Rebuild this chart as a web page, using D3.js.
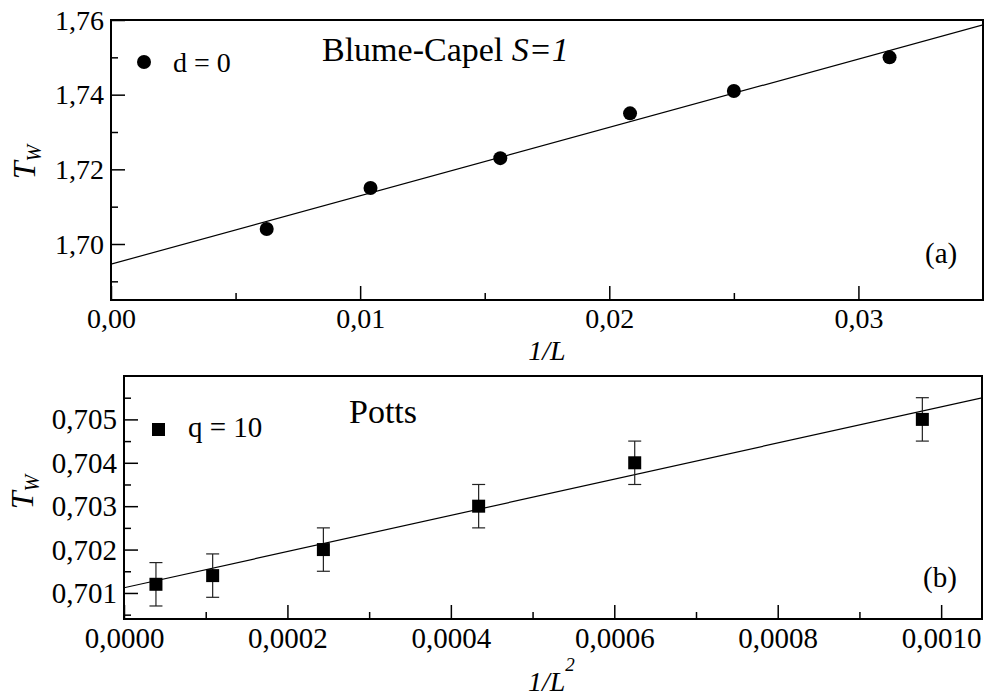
<!DOCTYPE html>
<html><head><meta charset="utf-8">
<script src="https://cdn.jsdelivr.net/npm/d3@7"></script>
</head><body style="margin:0">
<svg id="c" width="986" height="697"></svg>
<script>
// ---- data: panel (a) Blume-Capel S=1, d = 0 ----
const invL   = [0.00625, 0.0104167, 0.015625, 0.0208333, 0.025, 0.03125];
const twBC   = [1.704, 1.715, 1.723, 1.735, 1.741, 1.750];
const fitBC  = [1.6946, 1.831];           // intercept, slope
const xTicksA = [0, 0.01, 0.02, 0.03];
const xMinorA = [0.005, 0.015, 0.025];
const yTicksA = [1.70, 1.72, 1.74, 1.76];
const yMinorA = [1.69, 1.71, 1.73, 1.75];

// ---- data: panel (b) Potts q = 10 ----
const invL2    = [0.0000391, 0.0001085, 0.000244, 0.000434, 0.000625, 0.000977];
const twPotts  = [0.7012, 0.7014, 0.7020, 0.7030, 0.7040, 0.7050];
const errPotts = [0.0005, 0.0005, 0.0005, 0.0005, 0.0005, 0.0005];
const fitPotts = [0.70112, 4.17];
const xTicksB = [0, 0.0002, 0.0004, 0.0006, 0.0008, 0.0010];
const xMinorB = [0.0001, 0.0003, 0.0005, 0.0007, 0.0009];
const yTicksB = [0.701, 0.702, 0.703, 0.704, 0.705];
const yMinorB = [0.7005, 0.7015, 0.7025, 0.7035, 0.7045, 0.7055];

const FF = '"Liberation Serif"';
const svg = d3.select("#c");
const comma = f => v => d3.format(f)(v).replace(".", ",");
function txt(x, y, size){
  return svg.append("text").attr("x",x).attr("y",y).attr("font-size",size)
    .style("font-family",FF).attr("fill","#000");
}

function panel(o){
  const g = svg.append("g");
  const x = d3.scaleLinear().domain(o.xd).range([o.l, o.r]);
  const y = d3.scaleLinear().domain(o.yd).range([o.b, o.t]);
  const fs = o.fs;
  g.append("g").attr("transform",`translate(0,${o.b})`)
    .call(d3.axisBottom(x).tickValues(o.xMinor).tickSize(-7).tickFormat(""));
  g.append("g").attr("transform",`translate(${o.l},0)`)
    .call(d3.axisLeft(y).tickValues(o.yMinor).tickSize(-7).tickFormat(""));
  const xa = g.append("g").attr("transform",`translate(0,${o.b})`)
    .call(d3.axisBottom(x).tickValues(o.xTicks).tickSize(-14).tickPadding(0).tickFormat(comma(o.xf)));
  const ya = g.append("g").attr("transform",`translate(${o.l},0)`)
    .call(d3.axisLeft(y).tickValues(o.yTicks).tickSize(-14).tickPadding(7).tickFormat(comma(o.yf)));
  g.selectAll(".domain").remove();
  g.selectAll("g").attr("font-family",null).attr("font-size",null);
  g.selectAll(".tick line").attr("stroke","#000").attr("stroke-width",1.5);
  xa.selectAll("text").style("font-family",FF).attr("font-size",fs)
    .attr("y",null).attr("dy",null).attr("transform",`translate(0,${o.xlab})`);
  ya.selectAll("text").style("font-family",FF).attr("font-size",fs)
    .attr("dy","0.33em").attr("x",-7);
  g.append("rect").attr("x",o.l).attr("y",o.t).attr("width",o.r-o.l).attr("height",o.b-o.t)
    .attr("fill","none").attr("stroke","#000").attr("stroke-width",2);
  const cid = "clip"+o.id;
  svg.append("clipPath").attr("id",cid).append("rect")
    .attr("x",o.l).attr("y",o.t).attr("width",o.r-o.l).attr("height",o.b-o.t);
  const fx = o.xd;
  g.append("line").attr("clip-path",`url(#${cid})`)
    .attr("x1",x(fx[0])).attr("y1",y(o.fit[0]+o.fit[1]*fx[0]))
    .attr("x2",x(fx[1])).attr("y2",y(o.fit[0]+o.fit[1]*fx[1]))
    .attr("stroke","#000").attr("stroke-width",1.2);
  return {g,x,y};
}

// ---------- panel (a) ----------
const A = panel({id:"a", l:111, r:983, t:20, b:300, xd:[0,0.035], yd:[1.685,1.76],
  xTicks:xTicksA, xMinor:xMinorA, yTicks:yTicksA, yMinor:yMinorA, xf:".2f", yf:".2f",
  fit:fitBC, fs:28, xlab:28});
A.g.selectAll("circle.pt").data(invL.map((v,i)=>[v,twBC[i]])).enter().append("circle")
  .attr("cx",d=>A.x(d[0])).attr("cy",d=>A.y(d[1])).attr("r",7).attr("fill","#000");
svg.append("circle").attr("cx",144).attr("cy",62).attr("r",7).attr("fill","#000");
txt(173,72,28).text("d = 0");
const tA = txt(322,61,34);
tA.append("tspan").text("Blume-Capel ");
tA.append("tspan").attr("font-style","italic").text("S=1");
txt(925,263,29).text("(a)");
txt(547,360,28).attr("font-style","italic").attr("text-anchor","middle").text("1/L");
const ylA = txt(0,0,32).attr("transform","translate(35,162) rotate(-90)")
  .attr("text-anchor","middle").attr("font-style","italic");
ylA.append("tspan").text("T");
ylA.append("tspan").attr("font-size",20).attr("dy",6).text("W");

// ---------- panel (b) ----------
const B = panel({id:"b", l:124, r:982, t:376, b:619, xd:[0,0.00105], yd:[0.7004,0.706],
  xTicks:xTicksB, xMinor:xMinorB, yTicks:yTicksB, yMinor:yMinorB, xf:".4f", yf:".3f",
  fit:fitPotts, fs:29, xlab:29});
const pts = invL2.map((v,i)=>({x:v, y:twPotts[i], e:errPotts[i]}));
const eb = B.g.selectAll("g.eb").data(pts).enter().append("g")
  .attr("stroke","#222").attr("stroke-width",1.2);
eb.append("line").attr("x1",d=>B.x(d.x)).attr("x2",d=>B.x(d.x))
  .attr("y1",d=>B.y(d.y-d.e)).attr("y2",d=>B.y(d.y+d.e));
eb.append("line").attr("x1",d=>B.x(d.x)-6.5).attr("x2",d=>B.x(d.x)+6.5)
  .attr("y1",d=>B.y(d.y+d.e)).attr("y2",d=>B.y(d.y+d.e));
eb.append("line").attr("x1",d=>B.x(d.x)-6.5).attr("x2",d=>B.x(d.x)+6.5)
  .attr("y1",d=>B.y(d.y-d.e)).attr("y2",d=>B.y(d.y-d.e));
B.g.selectAll("rect.pt").data(pts).enter().append("rect")
  .attr("x",d=>B.x(d.x)-6.5).attr("y",d=>B.y(d.y)-6.5).attr("width",13).attr("height",13)
  .attr("fill","#000");
svg.append("rect").attr("x",152).attr("y",423).attr("width",13).attr("height",13).attr("fill","#000");
txt(188,437,29).text("q = 10");
txt(349,423,34).text("Potts");
txt(923,587,29).text("(b)");
const xlB = txt(528,691,28).attr("font-style","italic");
xlB.append("tspan").text("1/L");
xlB.append("tspan").attr("font-size",19).attr("dy",-20).text("2");
const ylB = txt(0,0,32).attr("transform","translate(33,492) rotate(-90)")
  .attr("text-anchor","middle").attr("font-style","italic");
ylB.append("tspan").text("T");
ylB.append("tspan").attr("font-size",20).attr("dy",6).text("W");
</script>
</body></html>
